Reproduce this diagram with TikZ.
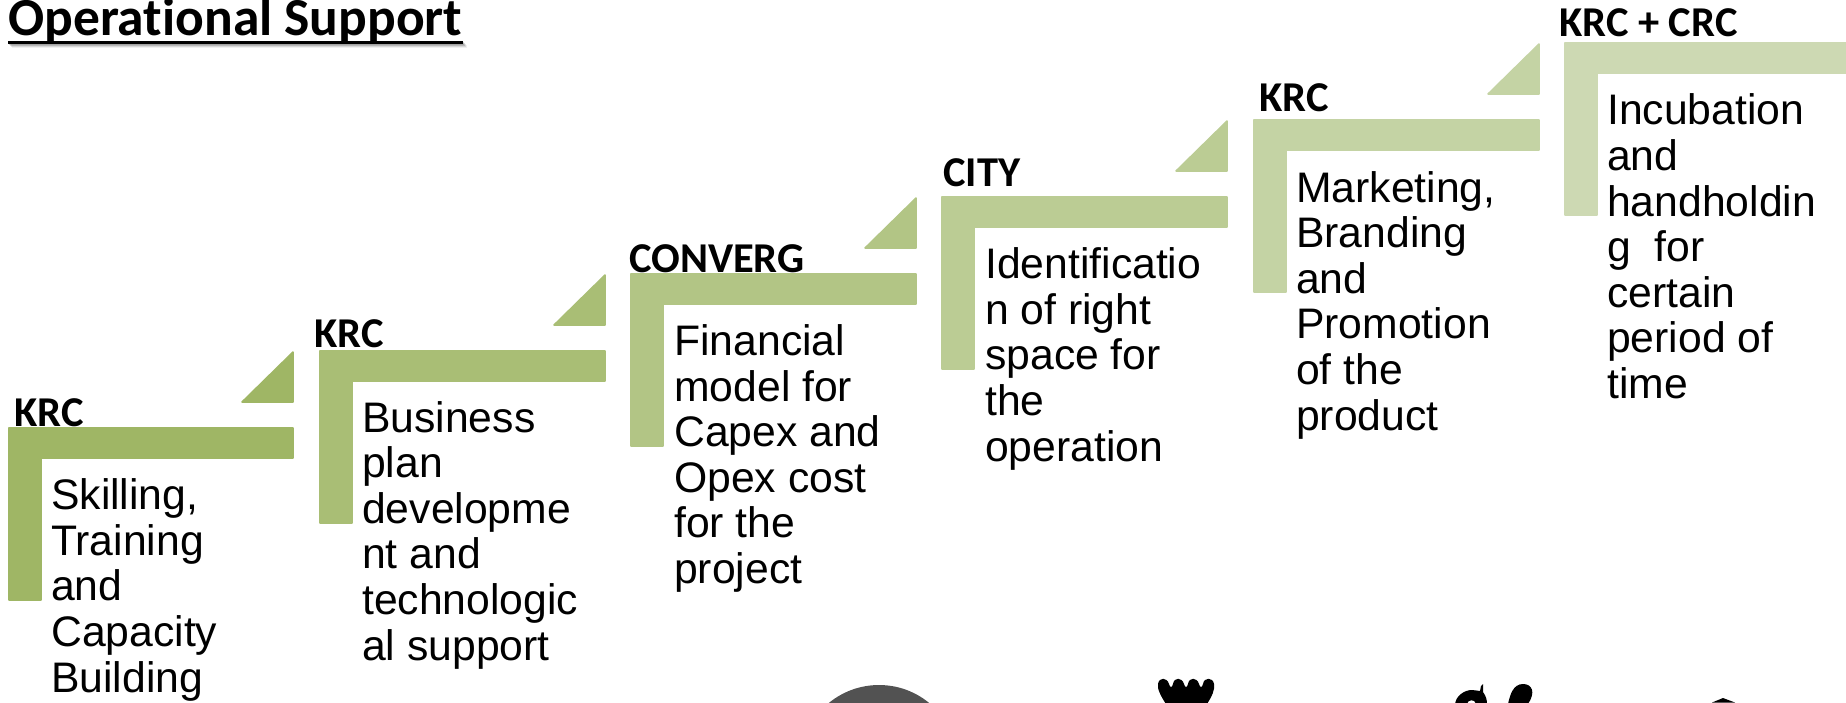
\documentclass[tikz,border=0pt]{standalone}
\usepackage{fontspec}
\setmainfont{Liberation Sans}
\newfontfamily\headfont{Carlito}[Ligatures=NoCommon]
\definecolor{cA}{HTML}{9FB665}
\definecolor{cB}{HTML}{A9BE75}
\definecolor{cC}{HTML}{B2C585}
\definecolor{cD}{HTML}{BBCC94}
\definecolor{cE}{HTML}{C4D3A4}
\definecolor{cF}{HTML}{CDD9B3}
\tikzset{
  x=1pt,y=-1pt,
  stepbody/.style={line join=round,line width=1.5pt,draw=#1,fill=#1},
  bodytext/.style={anchor=base west,inner sep=0pt,font=\fontsize{42.7}{45.6}\selectfont,align=left},
  headtext/.style={anchor=base west,inner sep=0pt,font=\headfont\bfseries\fontsize{42.5}{48}\selectfont},
  titletext/.style={anchor=base west,inner sep=0pt,font=\headfont\bfseries\fontsize{53.5}{58}\selectfont},
}
\newcommand{\stepshape}[5]{% left, top, right, bottom, colour
  \fill[stepbody=#5] (#1+1,#2+1) -- (#3-1,#2+1) -- (#3-1,#2+31) -- (#1+33,#2+31) -- (#1+33,#4-1) -- (#1+1,#4-1) -- cycle;
}
\newcommand{\trishape}[3]{% right, top, colour
  \fill[stepbody=#3] (#1-1,#2+2) -- (#1-1,#2+52) -- (#1-52,#2+52) -- cycle;
}
\begin{document}
\begin{tikzpicture}
\useasboundingbox (0,0) rectangle (1846,702);
\fill[white] (0,0) rectangle (1846,702);
% bottom cropped shapes
\begin{scope}
\clip (0,0) rectangle (1846,702);
\fill[black!68] (879,764) circle (79);
% crown
\fill[black] (1166,704) .. controls (1160,695) and (1157,688) .. (1158,684)
  .. controls (1159,677) and (1167,677) .. (1169,684) .. controls (1170,688) and (1172,688) .. (1173,684)
  .. controls (1174,677) and (1182,677) .. (1184,684) .. controls (1185,688) and (1187,688) .. (1188,684)
  .. controls (1189,677) and (1197,677) .. (1199,684) .. controls (1200,688) and (1202,688) .. (1203,684)
  .. controls (1204,677) and (1213,677) .. (1214,684) .. controls (1215,690) and (1212,696) .. (1207,704) -- cycle;
% apple
\fill[black,even odd rule] (1455,704) .. controls (1456,696) and (1464,690) .. (1472,690) .. controls (1475,690) and (1478,691) .. (1480,691)
  -- (1481,686) -- (1483,684) -- (1483,692) .. controls (1486,696) and (1487,700) .. (1487,704) -- cycle
  (1467,704) .. controls (1467,700) and (1475,698) .. (1476,704) -- cycle;
% leaf
\fill[black] (1508,704) .. controls (1510,695) and (1513,684) .. (1523,684) .. controls (1532,684) and (1536,692) .. (1528,704) -- cycle;
% peak
\fill[black] (1712,702.5) -- (1723,698) -- (1735,702.5) -- cycle;
\end{scope}
% title and its underline, with the underline's soft shadow
\foreach \d/\o in {1/0.16,2/0.14,3/0.10,4/0.06}{
  \fill[black,opacity=\o] (8+\d,40.5+\d) rectangle (463+\d,43.5+\d);
}
\node[titletext] (title) at (8,35) {Operational Support};
\fill[black] (8,40.5) rectangle (463,43.5);
% steps
\stepshape{8}{427}{294}{601}{cA}
\stepshape{319}{350}{606}{524}{cB}
\stepshape{630}{273}{917}{447}{cC}
\stepshape{941}{196}{1228}{370}{cD}
\stepshape{1253}{119}{1540}{293}{cE}
\stepshape{1564}{42}{1860}{216}{cF}
\trishape{294}{350}{cA}
\trishape{606}{273}{cB}
\trishape{917}{196}{cC}
\trishape{1228}{119}{cD}
\trishape{1540}{42}{cE}
% heads
\node[headtext] (h1) at (14,426) {KRC};
\node[headtext] (h2) at (314,347) {KRC};
\node[headtext] (h3) at (629,272) {CONVERG};
\node[headtext] (h4) at (943,186) {CITY};
\node[headtext] (h5) at (1259,111) {KRC};
\node[headtext] (h6) at (1559,36) {KRC + CRC};
% bodies: anchored at the baseline of their last line
\node[bodytext] (b1) at (51,692) {Skilling,\\Training\\and\\Capacity\\Building};
\node[bodytext] (b2) at (362,660) {Business\\plan\\developme\\nt and\\technologic\\al support};
\node[bodytext] (b3) at (674,583.5) {Financial\\model for\\Capex and\\Opex cost\\for the\\project};
\node[bodytext] (b4) at (985,461) {Identificatio\\n of right\\space for\\the\\operation};
\node[bodytext] (b5) at (1296,430) {Marketing,\\Branding\\and\\Promotion\\of the\\product};
\node[bodytext] (b6) at (1607,398.5) {Incubation\\and\\handholdin\\g~~for\\certain\\period of\\time};
\end{tikzpicture}
\end{document}
